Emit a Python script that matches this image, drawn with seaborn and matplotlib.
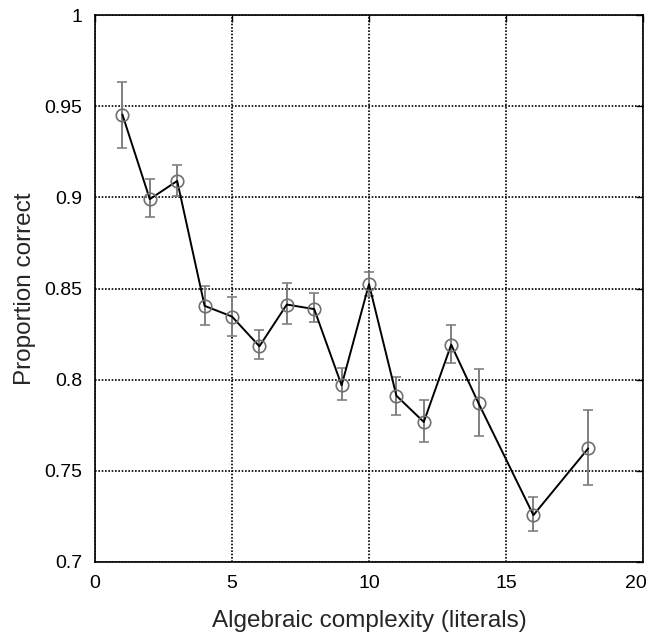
import matplotlib
matplotlib.use("Agg")
import matplotlib.pyplot as plt
import matplotlib.transforms as mtransforms
import seaborn as sns
import pandas as pd
from matplotlib.ticker import FuncFormatter

literals = [1, 2, 3, 4, 5, 6, 7, 8, 9, 10, 11, 12, 13, 14, 16, 18]
proportion = [0.9454, 0.899, 0.909, 0.8405, 0.8346, 0.8183, 0.8412, 0.8387,
              0.7969, 0.8524, 0.7912, 0.7768, 0.8192, 0.787, 0.7257, 0.7623]
err_low = [0.9273, 0.889, 0.9007, 0.830, 0.824, 0.8115, 0.8308, 0.8319,
           0.789, 0.8457, 0.7808, 0.7658, 0.8092, 0.7689, 0.717, 0.7421]
err_high = [0.9635, 0.9099, 0.918, 0.8515, 0.8453, 0.827, 0.853, 0.8473,
            0.8064, 0.8591, 0.8015, 0.789, 0.8298, 0.806, 0.7357, 0.7831]
xticks = [0, 5, 10, 15, 20]
yticks = [0.7, 0.75, 0.8, 0.85, 0.9, 0.95, 1.0]

df = pd.DataFrame({"x": literals, "y": proportion, "lo": err_low, "hi": err_high})

sns.set_style("white")
plt.rcParams["font.family"] = ["Liberation Sans", "DejaVu Sans"]

fig = plt.figure(figsize=(6.5, 6.32), dpi=100)
ax = fig.add_axes([95 / 650, 1 - 562 / 632, (643 - 95) / 650, (562 - 15) / 632])

ax.errorbar(df["x"], df["y"], yerr=[df["y"] - df["lo"], df["hi"] - df["y"]],
            fmt="none", ecolor="#808080", elinewidth=1.4, capsize=3.5, capthick=1.2, zorder=2)
sns.lineplot(data=df, x="x", y="y", color="black", linewidth=1.4, ax=ax, zorder=3)
ax.plot(df["x"], df["y"], linestyle="none", marker="o", markersize=9,
        markerfacecolor="none", markeredgecolor="#707070", markeredgewidth=1.2, zorder=4)

ax.set_xlim(0, 20)
ax.set_ylim(0.7, 1.0)
ax.set_xticks(xticks)
ax.set_yticks(yticks)
ax.yaxis.set_major_formatter(FuncFormatter(lambda v, p: f"{v:g}"))
ax.xaxis.set_major_formatter(FuncFormatter(lambda v, p: f"{v:g}"))
ax.grid(True, color="black", linestyle=(0, (1, 1)), linewidth=1.2)
ax.tick_params(direction="in", length=5, width=1, top=True, right=True,
               labelsize=14, pad=9, colors="black")
for s in ax.spines.values():
    s.set_color("black")
    s.set_linewidth(1.2)
    s.set_visible(True)
ax.set_xlabel("Algebraic complexity (literals)", fontsize=17.5, labelpad=13)
ax.set_ylabel("Proportion correct", fontsize=17.5, labelpad=6)

# keep the last x tick label inside the figure, as in the reference
last = ax.get_xticklabels()[-1]
last.set_transform(last.get_transform() + mtransforms.ScaledTranslation(-7 / 100, 0, fig.dpi_scale_trans))

fig.savefig("out.png", dpi=100)
